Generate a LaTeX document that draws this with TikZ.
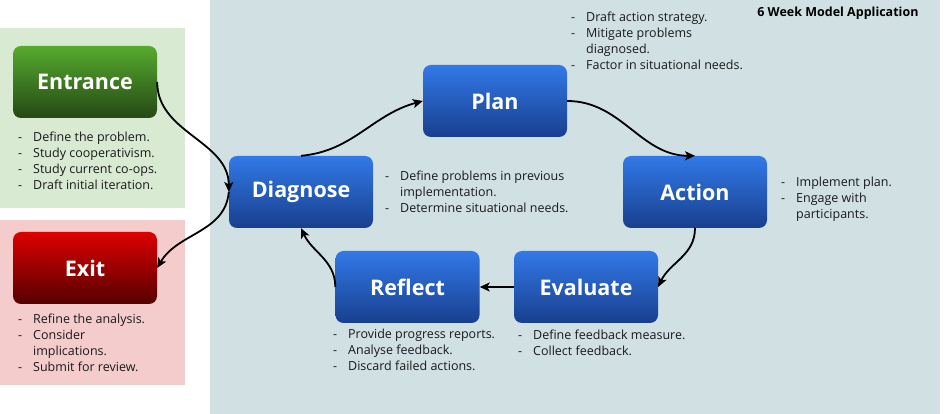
\documentclass[tikz,border=0pt]{standalone}
\usepackage{fontspec}
\setmainfont{Open Sans}
\usetikzlibrary{arrows.meta}

\definecolor{bgblue}{HTML}{D0E0E3}
\definecolor{bggreen}{HTML}{D9EAD3}
\definecolor{bgred}{HTML}{F4CCCC}
\definecolor{bluetop}{HTML}{3279E8}
\definecolor{bluebot}{HTML}{183F8E}
\definecolor{greentop}{HTML}{56AA2E}
\definecolor{greenbot}{HTML}{254815}
\definecolor{redtop}{HTML}{DC0000}
\definecolor{redbot}{HTML}{560000}
\definecolor{notetext}{HTML}{1A1A1A}

\newcommand{\notelist}[1]{\begin{tabular}{@{}p{15pt}@{}l@{}}#1\end{tabular}}

\begin{document}
\begin{tikzpicture}[x=1pt,y=1pt]

      \useasboundingbox (0,0) rectangle (949,414);
      \fill[bgblue]  (210,0) rectangle (940,414);
      \fill[bggreen] (0,206) rectangle (185,386);
      \fill[bgred]   (0,29)  rectangle (185,194);

      \node (title) [anchor=base east, font=\fontsize{12.5}{14}\selectfont\bfseries] at (922,397) {6 Week Model Application};

      \begin{scope}[every node/.style={rounded corners=8pt, minimum width=144pt, minimum height=72pt,
          top color=bluetop, bottom color=bluebot, text=white, font=\fontsize{21.5}{24}\selectfont\bfseries}]
        \node (entrance) at (85,332)  [top color=greentop, bottom color=greenbot] {Entrance};
        \node (exit)     at (85,146)  [top color=redtop, bottom color=redbot] {Exit};
        \node (diagnose) at (301,222) {Diagnose};
        \node (plan)     at (495,313) {Plan};
        \node (action)   at (695,222) {Action};
        \node (evaluate) at (586,127) {Evaluate};
        \node (reflect)  at (407.5,127) {Reflect};
      \end{scope}

      \begin{scope}[every node/.style={anchor=north west, inner sep=0pt, text=notetext, font=\fontsize{12.5}{16}\selectfont}]
        \node (entrancenotes) at (18,284)  {\notelist{- & Define the problem.\\ - & Study cooperativism.\\ - & Study current co-ops.\\ - & Draft initial iteration.}};
        \node (exitnotes)     at (18,102)  {\notelist{- & Refine the analysis.\\ - & Consider\\ & implications.\\ - & Submit for review.}};
        \node (plannotes)     at (571,404) {\notelist{- & Draft action strategy.\\ - & Mitigate problems\\ & diagnosed.\\ - & Factor in situational needs.}};
        \node (diagnosenotes) at (385,245) {\notelist{- & Define problems in previous\\ & implementation.\\ - & Determine situational needs.}};
        \node (actionnotes)   at (781,239) {\notelist{- & Implement plan.\\ - & Engage with\\ & participants.}};
        \node (reflectnotes)  at (333,87)  {\notelist{- & Provide progress reports.\\ - & Analyse feedback.\\ - & Discard failed actions.}};
        \node (evaluatenotes) at (518,86)  {\notelist{- & Define feedback measure.\\ - & Collect feedback.}};
      \end{scope}

      \begin{scope}[every edge/.style={draw, line width=1.8pt, -{Stealth[length=10pt,width=9pt,inset=2.5pt]}}]
        \path (entrance.east) edge[out=-90, in=90]  (diagnose.west);
        \path (diagnose.west) edge[out=-95, in=60]  (exit.east);
        \path (diagnose.north) edge[out=5, in=195] (plan.west);
        \path (plan.east)     edge[out=0, in=180]   (action.north);
        \path (action.south)  edge[out=-90, in=65]  (evaluate.east);
        \path (evaluate.west) edge (reflect.east);
        \path (reflect.west)  edge[out=90, in=-65]  (diagnose.south);
      \end{scope}

    \end{tikzpicture}
\end{document}
